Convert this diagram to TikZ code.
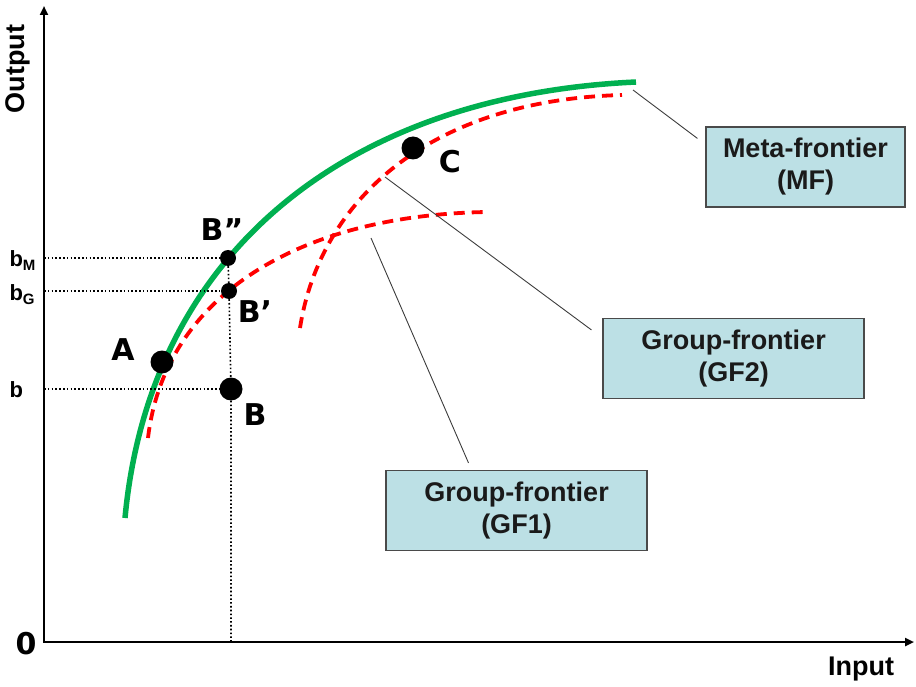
\documentclass[tikz,border=0pt]{standalone}
\usepackage{fontspec}
\setmainfont{Liberation Sans}
\newfontfamily\heavyfont{DejaVu Sans}
\usetikzlibrary{arrows.meta}
\definecolor{mfgreen}{HTML}{00B050}
\definecolor{gfred}{HTML}{FF0000}
\definecolor{boxfill}{HTML}{BCE0E5}
\definecolor{boxline}{HTML}{4A4A4A}
\definecolor{ink}{HTML}{1A1A1A}
\tikzset{
  axisline/.style={line width=2.6pt, line join=miter, {Triangle[length=9pt,width=8pt]}-{Triangle[length=9pt,width=8pt]}},
  meta/.style={draw=mfgreen, line width=5.5pt},
  grp/.style={draw=gfred, line width=3.8pt, dash pattern=on 11pt off 7pt},
  guide/.style={line width=1.6pt, dash pattern=on 1.6pt off 2.2pt},
  leader/.style={line width=0.9pt, draw=ink!85},
  bigdot/.style={circle, fill=black, inner sep=0pt, minimum size=23pt},
  smalldot/.style={circle, fill=black, inner sep=0pt, minimum size=16pt},
  ptlab/.style={font=\heavyfont\bfseries\fontsize{30}{30}\selectfont},
  axlab/.style={font=\bfseries\fontsize{27}{27}\selectfont},
  tag/.style={draw=boxline, fill=boxfill, line width=1.2pt, align=center, text=ink,
              font=\bfseries\fontsize{27}{32}\selectfont, inner sep=0pt, minimum height=80pt},
}

\begin{document}
\begin{tikzpicture}[x=1pt, y=-1pt]
  \useasboundingbox (0,0) rectangle (916,687);
  % axes
  \coordinate (O) at (44,642);
  \coordinate (ytop) at (44,6);
  \coordinate (xend) at (914,642);
  \draw[axisline] (ytop) -- (O) -- (xend);
  \node[axlab, rotate=90] (outlab) at (18,69) {Output};
  \node[axlab] (inlab) at (861,669) {Input};
  \node[ptlab] (zero) at (26,644) {0};

  % frontiers
  \draw[meta] (125,518) .. controls (150,250) and (350,95) .. (636,82);
  \draw[grp] (148,438) .. controls (165,295) and (300,215) .. (487,212);
  \draw[grp] (300,328) .. controls (320,200) and (430,100) .. (622,95);

  % points
  \node[smalldot] (Bpp) at (228,258) {};
  \node[smalldot] (Bp)  at (229,291) {};
  \node[bigdot]   (B)   at (231,389) {};
  \node[bigdot]   (A)   at (162,362) {};
  \node[bigdot]   (C)   at (413,148) {};
  \draw[guide] (O |- Bpp) -- (Bpp);
  \draw[guide] (O |- Bp) -- (Bp);
  \draw[guide] (O |- B) -- (B);
  \draw[guide] (Bpp) -- (Bp) -- (B) -- (B |- O);
  \node[ptlab] at (222,230) {B”};
  \node[ptlab] at (255,312) {B’};
  \node[ptlab] at (255,415) {B};
  \node[ptlab] at (123,350) {A};
  \node[ptlab] at (450,162) {C};

  \node[anchor=base west, font=\bfseries\fontsize{22}{22}\selectfont] (bM) at (6,267)
        {b\raisebox{-4pt}{\fontsize{15}{15}\selectfont M}};
  \node[anchor=base west, font=\bfseries\fontsize{22}{22}\selectfont] (bG) at (6,300)
        {b\raisebox{-4pt}{\fontsize{15}{15}\selectfont G}};
  \node[anchor=base west, font=\bfseries\fontsize{22}{22}\selectfont] (b0) at (6,397) {b};

  % boxes and leaders
  \node[tag, minimum width=199pt] (mf)  at (805.5,167)  {Meta-frontier\\(MF)};
  \node[tag, minimum width=261pt] (gf2) at (733.5,358.5) {Group-frontier\\(GF2)};
  \node[tag, minimum width=261pt] (gf1) at (516.5,510.5) {Group-frontier\\(GF1)};
  \coordinate (mftip)  at (633,90);
  \coordinate (gf2tip) at (385,177);
  \coordinate (gf1tip) at (371,238);
  \draw[leader] (mftip)  -- ([xshift=-8pt,yshift=-12pt]mf.north west);
  \draw[leader] (gf2tip) -- ([xshift=-11pt,yshift=-12pt]gf2.north west);
  \draw[leader] (gf1tip) -- ([xshift=-48pt,yshift=7pt]gf1.north);
\end{tikzpicture}
\end{document}
